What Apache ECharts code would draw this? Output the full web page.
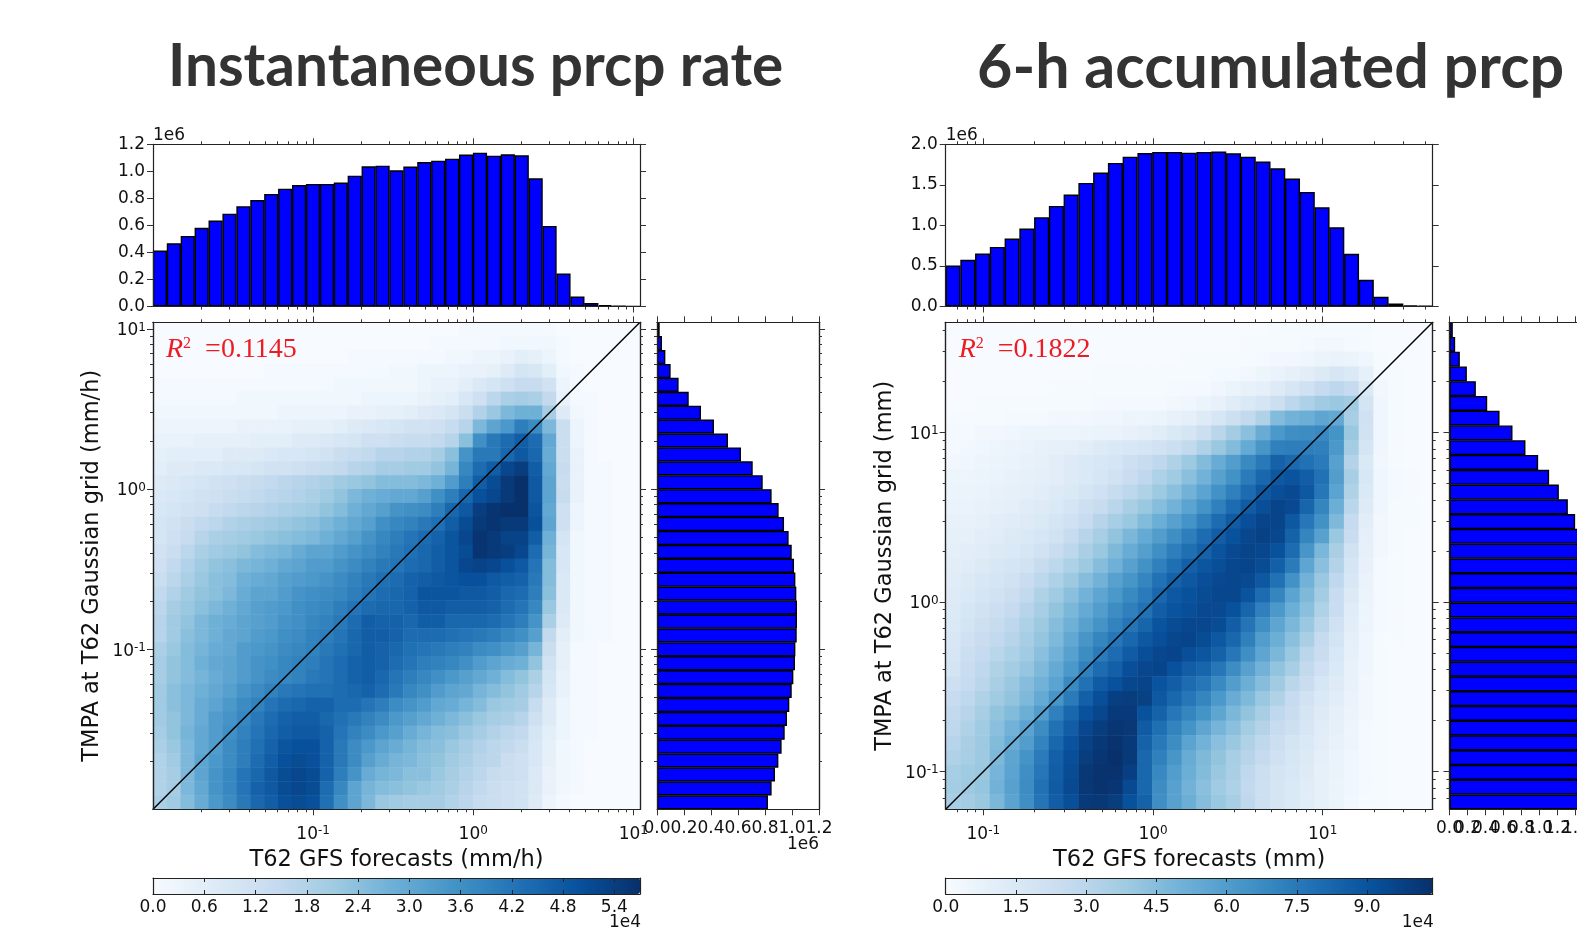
<!DOCTYPE html>
<html><head><meta charset="utf-8"><style>html,body{margin:0;padding:0;background:#fff}#c{width:1577px;height:927px}</style>
<script src="https://cdn.jsdelivr.net/npm/echarts@6/dist/echarts.min.js"></script></head><body><div id="c"></div>
<script>
// histogram heights in millions of samples
const topHistA=[.414,.468,.522,.582,.636,.687,.742,.788,.833,.872,.899,.907,.907,.917,.968,1.037,1.042,1.008,1.035,1.069,1.079,1.094,1.124,1.138,1.116,1.126,1.119,.949,.596,.244,.074,.025,.010,.005,.002];
const sideHistA=[.020,.037,.062,.101,.160,.235,.326,.422,.526,.622,.709,.783,.849,.901,.941,.975,.998,1.015,1.025,1.032,1.037,1.037,1.035,1.025,1.022,1.010,.998,.980,.963,.946,.923,.899,.874,.849,.822];
const topHistB=[.505,.575,.653,.735,.838,.961,1.101,1.240,1.380,1.524,1.651,1.770,1.848,1.893,1.906,1.906,1.897,1.906,1.910,1.889,1.848,1.787,1.704,1.577,1.413,1.224,.977,.649,.329,.119,.037,.016,.008];
const sideHistB=[.037,.063,.115,.193,.293,.419,.556,.700,.844,.985,1.107,1.215,1.315,1.396,1.46,1.51,1.55,1.58,1.60,1.62,1.63,1.63,1.63,1.62,1.61,1.60,1.58,1.57,1.55,1.53,1.51,1.49,1.47];
// 2-D histogram counts in thousands, rows from top to bottom
const heatA=[
[0,0,0,0,0,0,0,0,0,0,0,0,0,0,0,0,0,0,0,0,0,0,1,1,1,1,1,1,1,0,0,0,0,0,0],
[0,0,0,0,0,0,0,0,0,0,0,0,0,0,0,0,0,0,0,0,1,1,1,1,1,2,2,2,2,1,0,0,0,0,0],
[0,0,0,0,0,0,0,0,0,0,0,0,0,0,1,1,1,1,1,1,1,2,2,3,3,4,6,5,3,1,0,0,0,0,0],
[0,0,0,0,0,0,0,0,1,1,1,1,1,1,1,1,1,2,2,3,3,3,4,4,5,7,10,9,6,2,1,0,0,0,0],
[1,1,1,1,1,1,1,1,1,1,1,1,1,2,2,2,2,2,2,3,4,4,6,8,10,12,14,14,11,3,1,0,0,0,0],
[1,1,1,1,1,1,2,2,2,2,2,2,2,2,2,3,3,3,3,4,5,6,9,12,16,19,20,19,15,4,1,1,0,0,0],
[2,2,2,2,2,2,2,2,2,3,3,3,3,3,4,4,5,5,6,7,8,10,13,18,22,26,28,28,20,7,2,1,0,0,0],
[3,3,3,3,3,3,4,4,4,4,5,5,5,6,7,8,9,10,11,11,12,14,17,26,31,34,40,37,26,13,3,1,0,0,0],
[4,4,4,5,5,5,5,6,6,6,7,7,8,9,10,12,12,13,14,14,15,17,24,36,41,44,47,44,30,13,3,1,0,0,0],
[5,6,6,6,6,7,7,7,8,9,9,10,11,13,14,15,17,17,18,18,20,24,35,41,41,45,48,45,29,13,4,1,0,0,0],
[6,7,7,8,8,9,9,10,11,11,12,13,14,15,17,18,20,20,21,21,23,27,38,44,47,52,54,47,30,14,4,1,1,0,0],
[7,8,9,10,11,12,13,14,15,16,17,18,19,21,22,23,25,25,25,26,28,33,40,47,51,55,57,48,31,13,4,1,1,0,0],
[8,9,10,11,12,13,14,15,16,17,18,19,21,23,26,28,29,30,30,32,36,40,45,50,52,55,57,48,31,14,4,1,1,0,0],
[9,10,11,12,14,15,16,17,18,19,20,21,23,25,28,30,32,35,36,37,40,45,48,54,56,57,57,49,30,12,3,1,1,0,0],
[10,11,13,15,16,18,19,20,21,22,23,24,26,28,30,32,36,38,39,41,43,47,51,55,56,55,55,50,31,12,3,1,1,0,0],
[10,12,14,17,19,20,21,22,23,24,25,26,28,30,32,35,38,40,42,44,46,49,52,56,55,53,53,47,28,10,2,1,1,0,0],
[11,13,16,19,21,22,23,25,26,27,29,31,31,33,35,37,39,41,43,45,47,49,51,56,55,54,52,44,27,9,2,1,1,0,0],
[12,15,18,21,23,24,26,27,28,30,31,33,33,35,37,39,41,42,44,45,47,49,52,53,52,50,48,42,25,9,2,1,1,0,0],
[13,16,19,22,24,25,28,29,30,32,33,34,35,37,39,41,43,44,46,47,48,49,50,50,48,47,46,41,25,8,2,1,1,0,0],
[15,18,21,23,24,26,29,31,31,33,35,36,37,38,40,42,44,45,46,49,49,49,48,48,47,45,44,40,24,8,2,1,1,0,0],
[16,20,22,24,26,28,30,32,33,34,36,37,38,40,42,44,45,45,46,48,48,47,47,47,46,44,42,38,22,8,2,1,1,0,0],
[17,21,23,26,28,29,31,32,33,35,36,38,39,41,44,47,46,46,45,47,47,45,45,45,44,42,40,35,19,7,2,1,1,0,0],
[17,21,24,26,28,30,31,33,34,36,37,39,40,42,45,47,47,46,44,44,44,43,42,41,40,38,36,32,15,6,2,1,1,0,0],
[19,22,25,27,29,30,33,34,35,37,38,39,41,43,45,47,46,45,43,42,41,40,39,37,36,34,32,27,13,5,1,1,0,0,0],
[20,23,25,28,30,31,33,35,36,38,39,40,42,44,46,47,46,44,42,40,39,38,36,33,31,29,28,23,11,5,1,1,0,0,0],
[20,23,25,27,29,31,33,35,37,38,39,41,42,44,46,47,45,42,40,38,36,34,32,30,28,25,23,19,10,4,1,1,0,0,0],
[21,24,26,28,30,32,35,37,39,41,42,43,43,44,45,46,44,41,38,36,33,31,30,27,25,23,21,17,9,4,1,1,0,0,0],
[21,24,26,29,31,34,37,39,42,44,45,46,46,44,44,42,40,37,35,33,30,29,27,25,22,21,20,14,7,3,1,1,0,0,0],
[21,23,26,29,33,35,38,41,44,46,47,47,45,43,41,39,37,34,32,30,28,26,24,22,20,19,17,12,7,3,1,1,0,0,0],
[20,23,27,30,33,36,39,42,45,47,48,48,46,42,39,37,34,32,29,27,25,24,22,20,18,16,15,10,6,3,1,1,0,0,0],
[19,22,26,30,33,37,40,43,46,49,50,50,46,41,37,34,31,29,27,25,24,22,20,18,16,15,13,9,5,2,1,0,0,0,0],
[18,21,26,31,34,37,40,44,47,50,51,50,46,41,37,32,29,27,26,24,23,21,19,17,16,13,12,9,5,2,1,0,0,0,0],
[18,20,26,31,35,38,42,45,48,51,52,51,46,40,35,29,27,26,24,24,22,20,18,16,14,13,12,8,4,2,1,0,0,0,0],
[18,20,26,30,35,38,42,46,48,51,52,51,44,38,31,27,25,24,23,22,21,19,17,15,13,12,11,8,4,2,1,0,0,0,0],
[19,21,25,29,34,37,41,45,47,50,51,50,43,36,31,26,22,21,20,20,20,18,16,14,13,12,11,7,3,1,0,0,0,0,0]];
const heatB=[
[0,0,0,0,0,0,0,0,0,0,0,0,0,0,0,0,0,0,0,0,0,0,1,1,1,1,1,1,1,0,0,0,0],
[0,0,0,0,0,0,0,0,0,0,0,0,0,0,0,0,0,0,0,0,1,1,1,1,2,3,3,2,1,0,0,0,0],
[0,0,0,0,0,0,0,0,0,0,0,0,0,0,0,0,1,1,1,1,1,2,3,3,4,6,7,6,4,1,0,0,0],
[0,0,0,0,0,0,0,0,0,0,1,1,1,1,1,1,1,1,2,2,3,5,7,9,11,14,17,15,9,2,1,0,0],
[0,0,0,0,0,0,0,1,1,1,1,1,1,1,1,2,2,2,4,6,8,10,13,17,21,26,29,26,15,3,1,0,0],
[0,0,1,1,1,1,1,1,1,1,2,2,2,2,2,3,4,6,8,12,15,18,23,29,34,38,40,38,19,4,1,0,0],
[1,1,1,1,2,2,2,3,3,3,4,4,5,5,6,8,10,13,17,22,27,33,46,50,52,56,55,36,21,4,1,0,0],
[2,2,3,3,4,5,5,5,5,6,7,7,8,10,12,15,18,23,30,37,44,53,62,66,67,69,64,40,20,4,1,0,0],
[2,3,4,5,6,7,8,9,10,11,13,15,16,18,20,23,27,33,40,46,54,63,72,73,73,72,62,37,18,4,1,0,0],
[3,4,5,6,7,8,9,11,13,15,16,18,22,25,28,33,39,46,53,60,68,75,84,81,78,74,58,32,15,3,1,0,0],
[5,5,6,7,8,9,10,11,13,15,17,20,24,28,34,38,44,50,58,65,74,82,88,90,86,78,60,36,16,4,2,1,0],
[6,6,7,8,9,10,11,13,15,18,21,25,29,33,39,44,50,57,65,72,80,88,92,94,88,76,57,33,15,4,2,1,0],
[7,7,8,9,10,12,13,15,18,22,25,30,35,40,45,50,57,64,72,80,87,92,96,94,83,70,52,30,13,4,1,1,0],
[8,8,9,11,12,13,15,18,21,25,31,36,40,46,52,58,64,72,80,87,92,96,96,88,76,65,47,26,11,3,1,1,0],
[9,9,11,12,14,15,17,20,25,31,36,42,48,54,60,66,73,80,86,91,95,97,95,84,70,58,40,24,10,3,1,0,0],
[10,11,12,14,15,17,20,24,29,35,40,47,53,59,66,73,79,84,90,94,96,95,91,80,63,48,35,20,9,3,1,0,0],
[11,12,14,16,18,20,25,29,34,39,45,51,58,65,72,79,85,89,92,95,96,93,85,74,56,44,32,18,8,2,1,0,0],
[12,14,16,18,20,24,29,34,39,45,50,58,63,70,78,84,88,92,94,95,94,88,78,65,50,40,28,16,7,2,1,0,0],
[13,15,18,20,23,27,33,38,44,50,56,62,68,74,82,88,91,93,95,95,90,80,70,57,47,37,25,14,6,2,1,0,0],
[14,17,20,23,26,31,36,42,48,54,60,67,72,78,86,90,92,94,94,91,83,72,62,52,44,33,24,12,5,2,1,0,0],
[15,19,22,25,29,34,39,45,51,58,64,71,77,83,90,93,95,95,93,86,77,66,56,48,40,30,21,11,5,2,1,0,0],
[16,21,24,27,31,36,41,47,55,63,70,76,82,88,92,95,96,93,88,82,72,60,52,44,35,26,19,10,4,1,1,0,0],
[17,23,26,30,34,38,44,50,58,67,74,80,87,92,95,96,92,89,84,76,66,56,48,40,30,24,16,9,4,1,0,0,0],
[19,24,28,33,37,41,47,54,62,72,80,85,92,95,96,91,86,83,76,67,58,50,42,36,27,21,15,8,4,1,0,0,0],
[22,26,30,35,40,45,50,57,68,78,87,91,95,96,90,86,80,76,68,60,52,45,38,30,24,17,13,8,3,1,0,0,0],
[25,28,33,38,42,47,54,63,74,85,92,98,99,97,88,82,76,70,62,53,47,40,33,26,20,15,11,7,3,1,0,0,0],
[27,31,36,42,46,52,60,72,82,91,95,100,100,91,84,76,70,64,56,48,42,36,28,24,18,13,10,6,3,1,0,0,0],
[29,33,38,44,50,57,67,78,86,95,99,102,101,87,79,71,64,56,49,44,37,32,25,22,17,12,9,5,2,1,0,0,0],
[31,35,39,46,53,60,71,82,90,97,101,103,100,84,75,67,57,50,44,40,33,28,23,19,15,11,8,5,2,1,0,0,0],
[33,36,39,47,56,64,74,85,92,99,102,104,100,82,72,63,53,47,42,36,31,26,21,17,14,10,7,4,2,1,0,0,0],
[36,38,40,49,57,66,76,86,93,101,103,103,98,82,69,60,52,46,40,35,28,23,19,16,13,9,7,4,2,1,0,0,0],
[37,39,41,50,58,67,78,87,94,101,103,102,94,82,67,58,50,44,38,34,27,22,18,15,12,9,6,4,2,1,0,0,0],
[36,37,40,48,57,66,77,86,92,100,101,99,91,84,66,58,52,45,40,36,28,22,18,15,12,9,6,3,1,1,0,0,0]];
const blues=['#f7fbff','#deebf7','#c6dbef','#9ecae1','#6baed6','#4292c6','#2171b5','#08519c','#08306b'];
const rangeA=[0.01,11], rangeB=[0.06,44.5];
const majorA=[0.1,1,10], majorB=[0.1,1,10];
const minorMult=[2,3,4,5,6,7,8,9];
const decadesA=[0.01,0.1,1,10], decadesB=[0.01,0.1,1,10];
const cbarTicksA=[0,6,12,18,24,30,36,42,48,54], cbarTicksB=[0,15,30,45,60,75,90];
const sideLabelsEvenA=[0,0.4,0.8,1.2], sideLabelsOddA=[0.2,0.6,1.0];
const sideLabelsEvenB=[0,0.4,0.8,1.2,1.6], sideLabelsOddB=[0.2,0.6,1.0,1.4,1.8];
const panelA={x:153,sx:657,title:'Instantaneous prcp rate',tx:168,ts:58.5,yMax:1.2,sideMax:1.2,top:topHistA,side:sideHistA,heat:heatA,range:rangeA,major:majorA,decades:decadesA,cbar:cbarTicksA,cmax:57,even:sideLabelsEvenA,odd:sideLabelsOddA,xn:'T62 GFS forecasts (mm/h)',yn:'TMPA at T62 Gaussian grid (mm/h)',r2:'=0.1145'};
const panelB={x:945.7,sx:1449.5,title:'6-h accumulated prcp',tx:977,ts:61,yMax:2.0,sideMax:1.8,top:topHistB,side:sideHistB,heat:heatB,range:rangeB,major:majorB,decades:decadesB,cbar:cbarTicksB,cmax:104,even:sideLabelsEvenB,odd:sideLabelsOddB,xn:'T62 GFS forecasts (mm)',yn:'TMPA at T62 Gaussian grid (mm)',r2:'=0.1822'};
const W=487,SW=162,T0=144.3,T1=306.5,H0=322.3,H1=809.3,C0=878,C1=894;
const FONT='DejaVu Sans',INK='#111',LINE={show:true,onZero:false,lineStyle:{color:'#222',width:1.2}};
const grid=[],xAxis=[],yAxis=[],series=[],visualMap=[],graphic=[];
function G(l,t,w,h){grid.push({left:l,top:t,width:w,height:h,show:false,containLabel:false,outerBoundsMode:'none'});return grid.length-1;}
const lab={fontFamily:FONT,fontSize:17,color:INK};
const logFmt=v=>'{b|10}{s|'+Math.round(Math.log10(v))+'}';
const logRich={b:{fontFamily:FONT,fontSize:17,color:INK},s:{fontFamily:FONT,fontSize:12,color:INK,padding:[0,0,7,0]}};
function logAxis(gi,pos,range,ticks,len,extra){
 return Object.assign({type:'log',logBase:10,gridIndex:gi,position:pos,min:range[0],max:range[1],z:6,axisLine:LINE,splitLine:{show:false},minorTick:{show:false},
  axisTick:{show:true,length:len,customValues:ticks,lineStyle:{color:'#333',width:1}},axisLabel:{show:false}},extra||{});
}
function hidden(gi,pos,range){return {type:'log',logBase:10,gridIndex:gi,position:pos,min:range[0],max:range[1],show:false};}
function allMinor(p){const o=[];p.decades.forEach(d=>minorMult.forEach(m=>{const v=d*m;if(v>p.range[0]&&v<p.range[1])o.push(v);}));return o;}
function overlayX(l,t,h,p,extra){
 [[p.major,6],[allMinor(p),3]].forEach(([ticks,len],k)=>{
  const g=G(l,t,W,h);
  xAxis.push(logAxis(g,'bottom',p.range,ticks,len,k==0?(extra||{}):{}));xAxis.push(logAxis(g,'top',p.range,ticks,len));
  yAxis.push(hidden(g,'left',p.range));
 });
}
function overlayY(l,t,w,p,extra){
 [[p.major,6],[allMinor(p),3]].forEach(([ticks,len],k)=>{
  const g=G(l,t,w,H1-H0);
  yAxis.push(logAxis(g,'left',p.range,ticks,len,k==0?(extra||{}):{}));yAxis.push(logAxis(g,'right',p.range,ticks,len));
  xAxis.push(hidden(g,'bottom',p.range));
 });
}
function panel(p,pi){
 const cats=p.top.map((_,i)=>i);
 const BAR={color:'#0000ff',borderColor:'#000',borderWidth:1.4};
 // top histogram
 let g=G(p.x,T0,W,T1-T0);
 let xi=xAxis.push({type:'category',gridIndex:g,data:cats,show:false})-1;
 const yi=yAxis.push({type:'value',gridIndex:g,position:'left',min:0,max:p.yMax,interval:pi?0.5:0.2,z:6,axisLine:LINE,splitLine:{show:false},axisTick:{show:true,length:6,lineStyle:{color:'#333'}},axisLabel:Object.assign({},lab,{margin:8,padding:[4,0,0,0],formatter:v=>v.toFixed(1)})})-1;
 yAxis.push({type:'value',gridIndex:g,position:'right',min:0,max:p.yMax,interval:pi?0.5:0.2,z:6,axisLine:LINE,splitLine:{show:false},axisTick:{show:true,length:6,lineStyle:{color:'#333'}},axisLabel:{show:false}});
 series.push({type:'bar',xAxisIndex:xi,yAxisIndex:yi,data:p.top,barWidth:'102%',silent:true,itemStyle:BAR});
 overlayX(p.x,T0,T1-T0,p);
 // heat map
 g=G(p.x,H0,W,H1-H0);
 xi=xAxis.push({type:'category',gridIndex:g,data:cats,show:false})-1;
 let yh=yAxis.push({type:'category',gridIndex:g,data:p.heat.map((_,i)=>i),inverse:true,show:false})-1;
 const cells=[];p.heat.forEach((row,r)=>row.forEach((v,c)=>cells.push([c,r,v])));
 const si=series.push({type:'heatmap',xAxisIndex:xi,yAxisIndex:yh,data:cells,silent:true,progressive:0,z:1})-1;
 visualMap.push({type:'continuous',seriesIndex:si,dimension:2,min:0,max:p.cmax,inRange:{color:blues},calculable:false,show:true,orient:'horizontal',left:p.x,top:C0,itemWidth:C1-C0,itemHeight:W,text:null,padding:0,hoverLink:false,showLabel:false,textStyle:{fontSize:0}});
 // log axes over the heat map
 overlayX(p.x,H0,H1-H0,p,{name:p.xn,nameLocation:'middle',nameGap:37,nameTextStyle:{fontFamily:FONT,fontSize:22.5,color:INK},axisLabel:{show:true,margin:16,customValues:p.major,formatter:logFmt,rich:logRich}});
 overlayY(p.x,H0,W,p,{name:p.yn,nameLocation:'middle',nameGap:49,nameTextStyle:{fontFamily:FONT,fontSize:22.5,color:INK},axisLabel:{show:true,margin:7,padding:[4,0,0,0],customValues:p.major,formatter:logFmt,rich:logRich}});
 // identity line on its own log grid
 g=G(p.x,H0,W,H1-H0);
 const xl=xAxis.push(hidden(g,'bottom',p.range))-1,yl=yAxis.push(hidden(g,'left',p.range))-1;
 series.push({type:'line',xAxisIndex:xl,yAxisIndex:yl,data:[[p.range[0],p.range[0]],[p.range[1],p.range[1]]],showSymbol:false,symbol:'none',silent:true,z:4,lineStyle:{color:'#000',width:1.4}});
 // side histogram
 g=G(p.sx,H0,SW,H1-H0);
 const sideLab=vals=>Object.assign({},lab,{margin:11,customValues:vals,hideOverlap:false,formatter:v=>v.toFixed(1)});
 const sx=xAxis.push({type:'value',gridIndex:g,position:'bottom',min:0,max:p.sideMax,interval:0.2,z:6,axisLine:LINE,splitLine:{show:false},axisTick:{show:true,length:6,lineStyle:{color:'#333'}},axisLabel:sideLab(p.even)})-1;
 xAxis.push({type:'value',gridIndex:g,position:'top',min:0,max:p.sideMax,interval:0.2,z:6,axisLine:LINE,splitLine:{show:false},axisTick:{show:true,length:6,lineStyle:{color:'#333'}},axisLabel:{show:false}});
 const sy=yAxis.push({type:'category',gridIndex:g,data:p.side.map((_,i)=>i),inverse:true,show:false})-1;
 series.push({type:'bar',xAxisIndex:sx,yAxisIndex:sy,data:p.side,barWidth:'102%',silent:true,itemStyle:BAR});
 // the remaining side-axis labels (they overlap their neighbours, as in the source figure)
 const g2=G(p.sx,H0,SW,H1-H0);
 xAxis.push({type:'value',gridIndex:g2,position:'bottom',min:0,max:p.sideMax,z:6,axisLine:{show:false,onZero:false},splitLine:{show:false},axisTick:{show:false},axisLabel:sideLab(p.odd)});
 yAxis.push({type:'value',gridIndex:g2,min:0,max:1,show:false});
 overlayY(p.sx,H0,SW,p);
 // colour bar frame and ticks
 g=G(p.x,C0,W,C1-C0);
 const cbx=a=>Object.assign({type:'value',gridIndex:g,min:0,max:p.cmax,z:6,axisLine:LINE,splitLine:{show:false}},a);
 xAxis.push(cbx({position:'bottom',axisTick:{show:true,inside:true,length:4,customValues:p.cbar,lineStyle:{color:'#222'}},axisLabel:Object.assign({},lab,{margin:5,customValues:p.cbar,formatter:v=>(v/10).toFixed(1)})}));
 xAxis.push(cbx({position:'top',axisTick:{show:true,inside:true,length:4,customValues:p.cbar,lineStyle:{color:'#222'}},axisLabel:{show:false}}));
 ['left','right'].forEach(pos=>yAxis.push({type:'value',gridIndex:g,position:pos,min:0,max:1,z:6,axisLine:LINE,splitLine:{show:false},axisTick:{show:false},axisLabel:{show:false}}));
 // texts
 graphic.push({type:'text',left:p.tx,top:38,z:20,style:{text:p.title,fontFamily:'Lato',fontWeight:'bold',fontSize:p.ts,fill:'#333'}});
 graphic.push({type:'text',left:p.x,top:127,z:20,style:{text:'1e6',fontFamily:FONT,fontSize:17,fill:INK}});
 graphic.push({type:'text',left:p.x+W-31,top:914,z:20,style:{text:'1e4',fontFamily:FONT,fontSize:17,fill:INK}});
 if(!pi)graphic.push({type:'text',left:p.sx+SW-32,top:836,z:20,style:{text:'1e6',fontFamily:FONT,fontSize:17,fill:INK}});
 graphic.push({type:'text',left:p.x+13,top:336,z:20,style:{text:'{r|R}{s|2}{t|  '+p.r2+'}',rich:{r:{fontFamily:'Liberation Serif',fontStyle:'italic',fontSize:28,fill:'#ed1c24'},s:{fontFamily:'Liberation Serif',fontSize:16,fill:'#ed1c24',padding:[0,0,12,0]},t:{fontFamily:'Liberation Serif',fontSize:28,fill:'#ed1c24'}}}});
}
panel(panelA,0);panel(panelB,1);
const chart=echarts.init(document.getElementById('c'),null,{renderer:'canvas'});
chart.setOption({animation:false,backgroundColor:'#fff',grid,xAxis,yAxis,series,visualMap,graphic,tooltip:{show:false}});
</script></body></html>
